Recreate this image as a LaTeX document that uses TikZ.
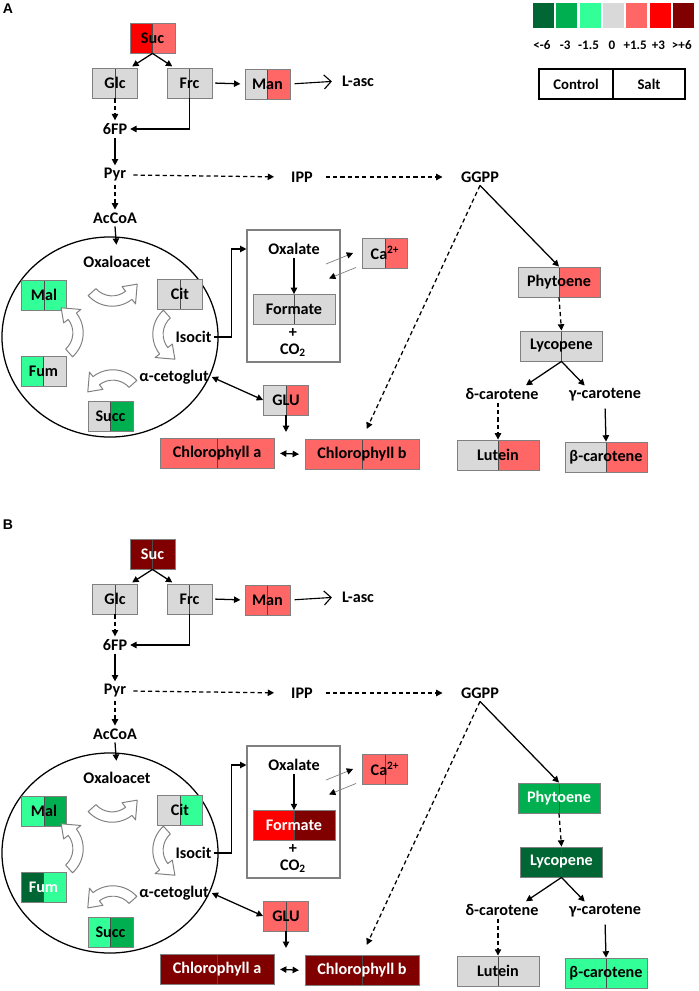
\documentclass[tikz,border=0pt]{standalone}
\usepackage{fontspec}
\setmainfont{Carlito}
\newfontfamily\labfont{Liberation Sans}
\usetikzlibrary{shapes.geometric,arrows.meta,positioning,calc}
\definecolor{dgreen}{RGB}{0,102,51}
\definecolor{mgreen}{RGB}{0,176,80}
\definecolor{lgreen}{RGB}{51,255,153}
\definecolor{nochg}{RGB}{217,217,217}
\definecolor{lred}{RGB}{255,102,102}
\definecolor{mred}{RGB}{255,0,0}
\definecolor{dred}{RGB}{128,0,0}
\definecolor{edgegray}{RGB}{128,128,128}

\tikzset{
  pair/.style 2 args={path picture={
      \fill[#1] (path picture bounding box.south west) rectangle (path picture bounding box.north);
      \fill[#2] (path picture bounding box.south) rectangle (path picture bounding box.north east);
      \draw[black!70,line width=0.5pt] (path picture bounding box.south) -- (path picture bounding box.north);}}
}

% curved white arrow of the cycle: x, y, rotation
\newcommand{\cycarrow}[3]{%
  \begin{scope}[shift={(#1,#2)},rotate=#3,scale=1.15,shift={(1,-20)}]
    \filldraw[cycarr] (138:28) arc[start angle=138,end angle=52,radius=28]
      -- (52:33) -- (22:23.5) -- (52:14) -- (52:19)
      arc[start angle=52,end angle=138,radius=19] -- cycle;
  \end{scope}}

% one panel, #1 = A or B
\newcommand{\pathway}[1]{%
  \node[panel] (lab#1) at (8,9) {#1};
  % sugars
  \node[sbox,sucC] (suc#1) at (152.5,38) {Suc};
  \node[sbox,glcC] (glc#1) at (115,83) {Glc};
  \node[sbox,frcC] (frc#1) at (189.5,83) {Frc};
  \node[sbox,manC] (man#1) at (267.5,84) {Man};
  \node[met] (lasc#1) at (358,81) {L-asc};
  \node[met] (fp#1) at (115,129) {6FP};
  \node[met] (pyr#1) at (115,175) {Pyr};
  \node[met] (acoa#1) at (115,218) {AcCoA};
  \node[met] (ipp#1) at (302,177) {IPP};
  \node[met] (ggpp#1) at (480,177) {GGPP};
  % TCA cycle
  \node[cell] (tca#1) at (110,337) {};
  \node[met] (oxa#1) at (117,262) {Oxaloacet};
  \node[sbox,malC] (mal#1) at (44,295) {Mal};
  \node[sbox,citC] (cit#1) at (180,294) {Cit};
  \node[met] (iso#1) at (193.5,337) {Isocit};
  \node[sbox,fumC] (fum#1) at (43.5,371.5) {Fum};
  \node[met] (akg#1) at (174,377) {α-cetoglut};
  \node[sbox,succC] (succ#1) at (110.5,416.5) {Succ};
  \cycarrow{111}{297}{0}
  \cycarrow{162}{333}{-90}
  \cycarrow{114}{379}{180}
  \cycarrow{74}{334}{90}
  % oxalate
  \node[oxframe] (oxb#1) at (293.5,296) {};
  \node[met] (oxl#1) at (294,249) {Oxalate};
  \node[wbox,frmC] (frm#1) at (294,309.5) {Formate};
  \node[met] (pls#1) at (293,333) {+};
  \node[met] (co#1) at (293,350) {CO\textsubscript{2}};
  \node[sbox,caC] (ca#1) at (385,253) {Ca\textsuperscript{2+}};
  % chlorophyll
  \node[sbox,gluC] (glu#1) at (286,400) {GLU};
  \node[lbox,chlaC] (chla#1) at (217,453) {Chlorophyll a};
  \node[lbox,chlbC] (chlb#1) at (362,454.5) {Chlorophyll b};
  % carotenoids
  \node[wbox,phyC] (phy#1) at (559,282) {Phytoene};
  \node[wbox,lycC] (lyc#1) at (561.5,346) {Lycopene};
  \node[met] (dcar#1) at (502,394) {δ-carotene};
  \node[met] (gcar#1) at (605,395) {γ-carotene};
  \node[wbox,lutC] (lut#1) at (498,455) {Lutein};
  \node[wbox,bcarC] (bcar#1) at (606,457) {β-carotene};
  % connectors
  \draw[arr,shorten >=1.5pt] (suc#1.south) -- (glc#1.45);
  \draw[arr,shorten >=1.5pt] (suc#1.south) -- (frc#1.135);
  \draw[darr] (glc#1.south) -- (fp#1.north);
  \draw[arr] (frc#1.south) |- (fp#1.east);
  \draw[arr,shorten <=2pt,shorten >=3pt] (frc#1.east) -- (man#1.west);
  \draw[oarr,shorten <=3pt,shorten >=5pt] (man#1.east) -- (lasc#1.west);
  \draw[arr] (fp#1.south) -- (pyr#1.north);
  \draw[darr,shorten <=3pt,shorten >=10pt] (pyr#1.east) -- (ipp#1.west);
  \draw[darr] (pyr#1.south) -- (acoa#1.north);
  \draw[arr,shorten >=6pt] (acoa#1.south) -- (oxa#1.north);
  \draw[darr,shorten <=7pt,shorten >=11pt] (ipp#1.east) -- (ggpp#1.west);
  \draw[arr] (ggpp#1.south) -- (phy#1.north);
  \draw[darr,shorten >=8pt] (ggpp#1.south) -- (chlb#1.north);
  \draw[arr] (iso#1.east) -- ++(17,0) |- (oxb#1.west |- oxl#1);
  \draw[arr] (oxl#1.south) -- (frm#1.north);
  \draw[carr] (ca#1.west) ++(-36,11) -- ++(27,-11);
  \draw[carr] (ca#1.south west) ++(-6,-1) -- ++(-27,11);
  \draw[barr] (akg#1.east) -- (glu#1.west);
  \draw[arr,shorten >=4pt] (glu#1.south) -- (glu#1.south |- chla#1.north);
  \draw[barr,shorten <=4pt,shorten >=4pt] (chla#1.east) -- (chlb#1.west);
  \draw[darr] (phy#1.south) -- (lyc#1.north);
  \draw[arr] (lyc#1.south) -- (dcar#1.20);
  \draw[arr] (lyc#1.south) -- (gcar#1.155);
  \draw[darr] (lut#1.north |- dcar#1.south) -- (lut#1.north);
  \draw[arr,shorten <=3pt] (gcar#1.south) -- (bcar#1.north);
}

\begin{document}
\begin{tikzpicture}[x=0.025cm,y=-0.025cm,
  met/.style={font=\fontsize{11.5}{13}\selectfont\bfseries,inner sep=2pt},
  box/.style={draw=edgegray,line width=0.6pt,minimum height=0.75cm,inner sep=1pt,
              font=\fontsize{11.5}{13}\selectfont\bfseries},
  sbox/.style={box,minimum width=1.125cm},
  wbox/.style={box,minimum width=2.05cm},
  lbox/.style={box,minimum width=2.85cm},
  cell/.style={draw,ellipse,line width=0.9pt,minimum width=5.4cm,minimum height=5cm,inner sep=0pt},
  oxframe/.style={draw=edgegray,line width=0.8pt,minimum width=2.325cm,minimum height=3.3cm,inner sep=0pt},
  cycarr/.style={fill=white,draw=edgegray,line width=0.7pt,line join=round},
  arr/.style={-{Triangle[length=4.5pt,width=4.5pt]},line width=0.9pt},
  darr/.style={arr,dash pattern=on 3pt off 2.2pt},
  barr/.style={{Triangle[length=4.5pt,width=4.5pt]}-{Triangle[length=4.5pt,width=4.5pt]},line width=0.9pt},
  oarr/.style={-{Straight Barb[length=5pt,width=10pt]},line width=0.8pt},
  carr/.style={-{Triangle[length=4.5pt,width=4.5pt,color=black]},draw=gray,line width=0.5pt},
  panel/.style={font=\labfont\fontsize{10}{12}\selectfont\bfseries,inner sep=0pt},
  legnum/.style={font=\fontsize{9.3}{11}\selectfont\bfseries,inner sep=1pt},
  legbox/.style={draw,line width=0.9pt,minimum height=0.75cm,font=\fontsize{10.5}{12}\selectfont\bfseries}
]
\useasboundingbox (0,0) rectangle (698,991);

% legend
\foreach \c/\t [count=\i from 0] in {dgreen/{<-6},mgreen/-3,lgreen/-1.5,nochg/0,lred/+1.5,mred/+3,dred/{>+6}}{
  \node[fill=\c,minimum width=0.525cm,minimum height=0.625cm,inner sep=0pt] (key\i) at (543.5+\i*23.3,15.5) {};
  \node[legnum] (num\i) at (542+\i*23.3,45) {\t};
}
\node[legbox,minimum width=1.85cm] (ctl) at (576,84) {Control};
\node[legbox,minimum width=1.8cm] (slt) at (649,84) {Salt};

% panel A
\begin{scope}
  \tikzset{sucC/.style={pair={mred}{lred}},glcC/.style={pair={nochg}{nochg}},
    frcC/.style={pair={nochg}{nochg}},manC/.style={pair={nochg}{lred}},
    malC/.style={pair={lgreen}{lgreen}},citC/.style={pair={nochg}{nochg}},
    fumC/.style={pair={lgreen}{nochg}},succC/.style={pair={nochg}{mgreen}},
    frmC/.style={pair={nochg}{nochg}},caC/.style={pair={nochg}{lred}},
    gluC/.style={pair={nochg}{lred}},chlaC/.style={pair={lred}{lred}},
    chlbC/.style={pair={lred}{lred}},phyC/.style={pair={nochg}{lred}},
    lycC/.style={pair={nochg}{nochg}},lutC/.style={pair={nochg}{lred}},
    bcarC/.style={pair={nochg}{lred}}}
  \pathway{A}
\end{scope}

% panel B
\begin{scope}[shift={(0,516)}]
  \tikzset{sucC/.style={pair={dred}{dred},text=white},glcC/.style={pair={nochg}{nochg}},
    frcC/.style={pair={nochg}{nochg}},manC/.style={pair={lred}{lred}},
    malC/.style={pair={lgreen}{mgreen}},citC/.style={pair={nochg}{lgreen}},
    fumC/.style={pair={dgreen}{lgreen},text=white},succC/.style={pair={lgreen}{mgreen}},
    frmC/.style={pair={mred}{dred},text=white},caC/.style={pair={lred}{lred}},
    gluC/.style={pair={lred}{lred}},chlaC/.style={pair={dred}{dred},text=white},
    chlbC/.style={pair={dred}{dred},text=white},phyC/.style={pair={mgreen}{mgreen},text=white},
    lycC/.style={pair={dgreen}{dgreen},text=white},lutC/.style={pair={nochg}{nochg}},
    bcarC/.style={pair={lgreen}{lgreen}}}
  \pathway{B}
\end{scope}
\end{tikzpicture}
\end{document}
